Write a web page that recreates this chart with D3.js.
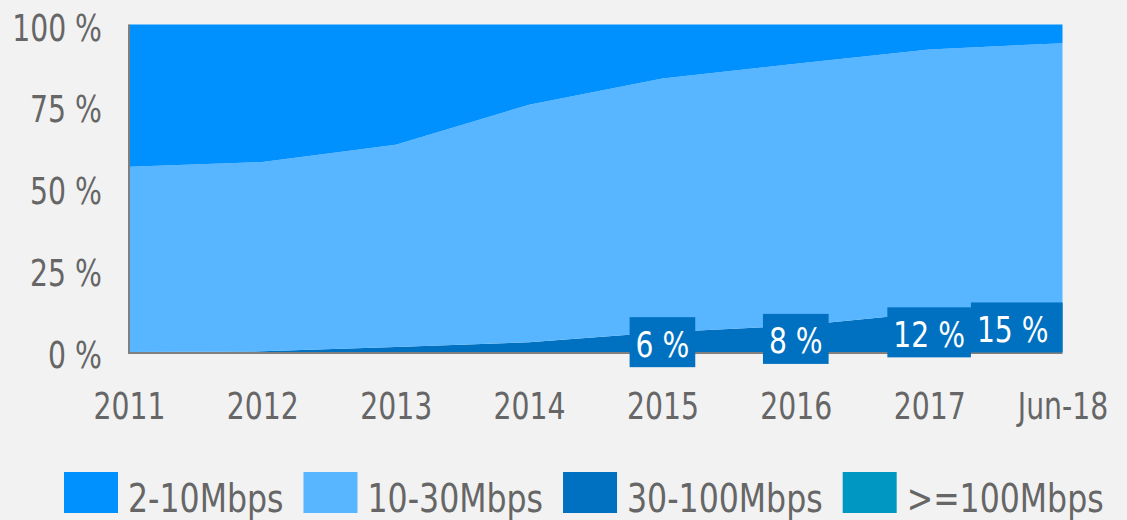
<!DOCTYPE html>
<html><head><meta charset="utf-8">
<script src="https://cdn.jsdelivr.net/npm/d3@7"></script>
<style>
html,body{margin:0;padding:0;background:#F2F2F2;}
svg{display:block;}
text{font-family:"DejaVu Sans Condensed","DejaVu Sans",sans-serif;}
</style></head>
<body><svg id="c" width="1127" height="520"></svg>
<script>
const categories = ["2011","2012","2013","2014","2015","2016","2017","Jun-18"];
const s2to10   = [43.4, 42.0, 36.7, 24.5, 16.5, 12.0, 7.6, 5.7];
const s10to30  = [56.6, 57.8, 61.8, 72.5, 77.5, 80.0, 80.4, 79.3];
const s30to100 = [0.0, 0.2, 1.5, 3.0, 6.0, 8.0, 12.0, 15.0];
const s100plus = [0, 0, 0, 0, 0, 0, 0, 0];
const seriesNames = ["2-10Mbps","10-30Mbps","30-100Mbps",">=100Mbps"];
const yTicks = [0, 25, 50, 75, 100];
const labelled = [
  {i:4, text:"6 %"}, {i:5, text:"8 %"}, {i:6, text:"12 %"}, {i:7, text:"15 %"}
];

const colors = {"2-10Mbps":"#0091FF","10-30Mbps":"#57B6FF","30-100Mbps":"#0070C0",">=100Mbps":"#0097C2"};
const valuesBy = {"2-10Mbps":s2to10,"10-30Mbps":s10to30,"30-100Mbps":s30to100,">=100Mbps":s100plus};

function squeeze(sel, f){
  sel.each(function(){
    const w = this.getComputedTextLength();
    d3.select(this).attr("textLength", w*f).attr("lengthAdjust","spacingAndGlyphs");
  });
}

const svg = d3.select("#c");
const W = 1127, H = 520;
const m = {left:129, right:W-1062.5, top:24.5, bottom:H-352};
const x = d3.scalePoint().domain(categories).range([m.left, W-m.right]);
const y = d3.scaleLinear().domain([0,100]).range([H-m.bottom, m.top]);

const rows = categories.map((c,i)=>{
  const r = {cat:c};
  seriesNames.forEach(n=> r[n] = valuesBy[n][i]);
  return r;
});
const stackOrder = [">=100Mbps","30-100Mbps","10-30Mbps","2-10Mbps"];
const stacked = d3.stack().keys(stackOrder)(rows);

const area = d3.area()
  .x(d=>x(d.data.cat))
  .y0(d=>y(d[0]))
  .y1(d=>y(d[1]))
  .curve(d3.curveLinear);

svg.append("g").selectAll("path").data(stacked).join("path")
  .attr("d", area)
  .attr("fill", d=>colors[d.key]);

// axis lines
svg.append("line").attr("x1",m.left).attr("x2",m.left).attr("y1",y(100)).attr("y2",y(0)+1)
  .attr("stroke","#7F7F7F").attr("stroke-width",2);
svg.append("line").attr("x1",m.left-1).attr("x2",W-m.right).attr("y1",y(0)+1).attr("y2",y(0)+1)
  .attr("stroke","#7F7F7F").attr("stroke-width",2);

// y axis labels
const yAxis = d3.axisLeft(y).tickValues(yTicks).tickFormat(d=>d+" %").tickSize(0).tickPadding(27);
const gy = svg.append("g").attr("transform",`translate(${m.left},0)`).call(yAxis);
gy.select(".domain").remove();
gy.selectAll("text").attr("font-size",37).attr("fill","#666666")
  .attr("dy","0.42em")
  .style("font-family",'"DejaVu Sans Condensed","DejaVu Sans",sans-serif')
  .call(squeeze, 0.85);

// x axis labels
const xAxis = d3.axisBottom(x).tickSize(0).tickPadding(0);
const gx = svg.append("g").call(xAxis);
gx.select(".domain").remove();
gx.selectAll("text").attr("font-size",37).attr("fill","#666666")
  .attr("y",419).attr("dy",0)
  .style("font-family",'"DejaVu Sans Condensed","DejaVu Sans",sans-serif')
  .call(squeeze, 0.85);

// data labels
const band = stacked.find(s=>s.key==="30-100Mbps");
const lg = svg.append("g");
labelled.forEach(L=>{
  const d = band[L.i];
  const cx = x(categories[L.i]);
  const cy = (y(d[0])+y(d[1]))/2;
  const g = lg.append("g");
  const t = g.append("text").text(L.text).attr("font-size",36).attr("fill","#ffffff")
    .attr("text-anchor","middle").attr("dominant-baseline","central");
  const tw = t.node().getComputedTextLength()*0.87;
  t.attr("textLength", tw).attr("lengthAdjust","spacingAndGlyphs");
  let bw = tw + 12, bh = 50;
  let bx = cx - bw/2;
  let tx = cx;
  if (bx + bw > W - m.right) { bw = tw + 20; bx = W - m.right - bw; tx = bx + 6 + tw/2; }
  g.insert("rect","text").attr("x",bx).attr("y",cy-bh/2).attr("width",bw).attr("height",bh).attr("fill","#0070C0");
  t.attr("x", tx).attr("y", cy+2);
});

// legend
const leg = svg.append("g");
let lx = 64;
seriesNames.forEach(n=>{
  leg.append("rect").attr("x",lx).attr("y",472).attr("width",54).attr("height",41).attr("fill",colors[n]);
  const t = leg.append("text").attr("x",lx+64).attr("y",512).text(n)
    .attr("font-size",39).attr("fill","#666666");
  const tw = t.node().getComputedTextLength()*0.9;
  t.attr("textLength", tw).attr("lengthAdjust","spacingAndGlyphs");
  lx = lx + 64 + tw + 20;
});
</script></body></html>
